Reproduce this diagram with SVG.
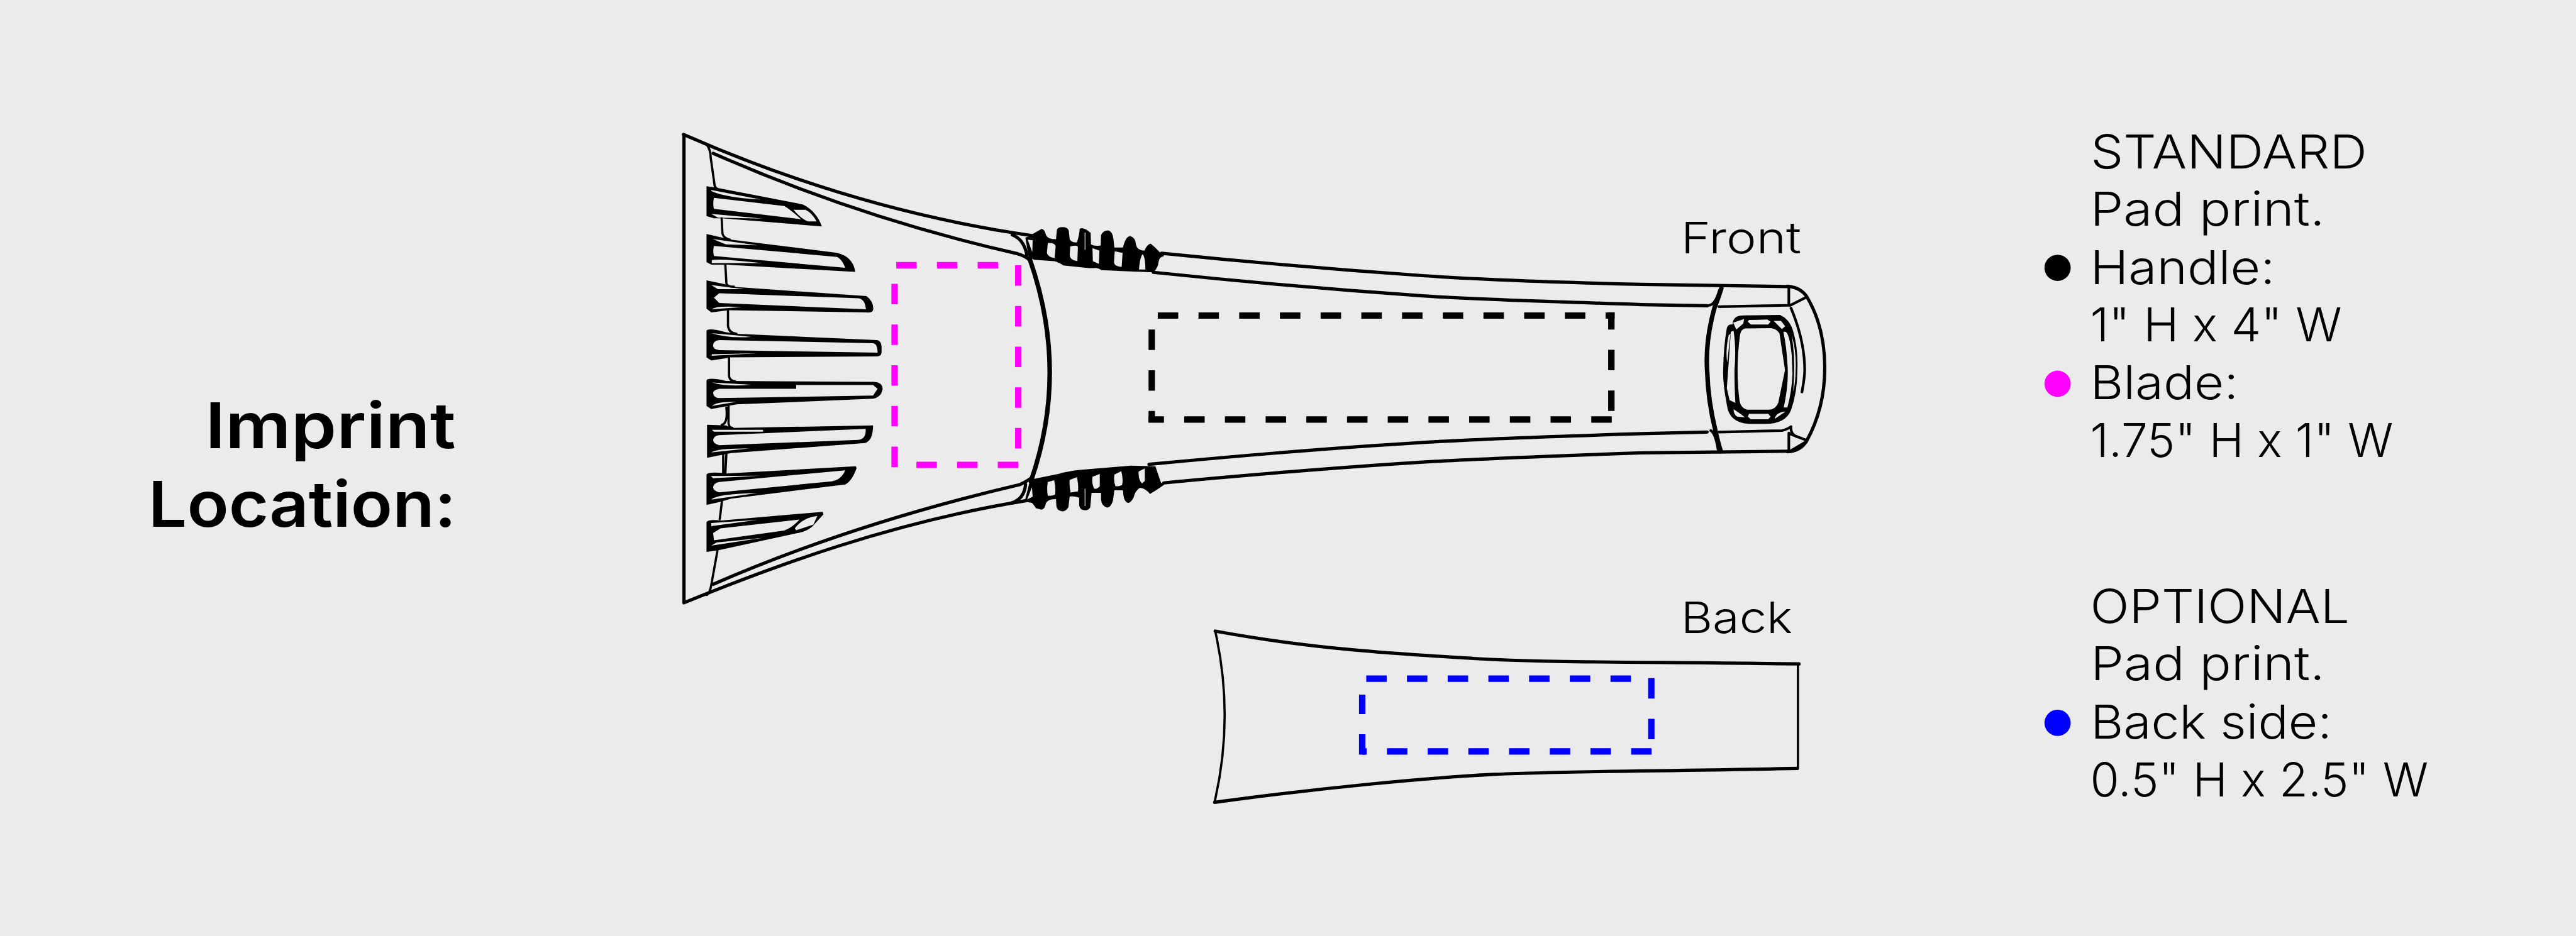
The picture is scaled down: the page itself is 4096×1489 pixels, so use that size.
<svg xmlns="http://www.w3.org/2000/svg" width="4096" height="1489" viewBox="0 0 4096 1489">
<style>
text{font-family:"Inter","Liberation Sans",sans-serif;fill:#000;font-weight:300;font-size:86px}
.h{font-weight:600;font-size:116px}
.s{font-size:79px}
.l{fill:none;stroke:#000;stroke-width:5.2;stroke-linecap:round;stroke-linejoin:round;vector-effect:non-scaling-stroke}
.t{stroke-width:3.6}
.c{stroke-width:4.2}
.k{stroke-width:7.2}
.f{fill:#000;fill-rule:evenodd;stroke:none}
.d{fill:none;stroke-dasharray:37.4 37;stroke-width:11.7}
</style>
<rect width="4096" height="1489" fill="#ebebeb"/>
<g transform="scale(.87001)">
<g id="title">
<text class="h" x="375" y="819" textLength="458" lengthAdjust="spacingAndGlyphs">Imprint</text>
<text class="h" x="271" y="963" textLength="563" lengthAdjust="spacingAndGlyphs">Location:</text>
</g>
<g id="front-scraper">
<g id="blade" transform="translate(1220 220) scale(.4847 .574)">
<path class="l" d="M62,48V1535M60,45C450,190 900,310 1378,368M62,1537C400,1420 850,1280 1350,1212"/>
<path class="l" d="M172,105C520,235 900,345 1320,425Q1350,432 1365,445M172,1478C520,1350 900,1245 1330,1160Q1355,1150 1370,1140M1300,365Q1345,380 1355,430M1350,1160Q1345,1205 1300,1218"/>
<path class="l k" d="M1365,440C1465,680 1465,920 1370,1150"/>
<path class="l t" d="M150,80Q162,95 163,120L178,210Q185,222 215,225M204,312L207,360Q210,375 235,380M218,460L222,520Q225,530 250,530M228,605V655Q232,678 260,680M232,755V815Q235,830 255,832M222,915Q228,965 205,970M230,910V965Q232,980 245,980M222,1060L218,1125M210,1065V1125M205,1215L197,1270M188,1372L165,1480Q160,1505 148,1512"/>
<path class="f" d="M147,210L180,214L510,268C550,285 570,310 582,338L205,312H175L147,305ZM175,247L440,273Q465,285 503,315L175,282Q170,265 175,247ZM165,225C200,240 280,250 350,252L165,222ZM165,298L360,313L190,310ZM475,285H520Q545,295 562,322H530Q505,315 475,285Z"/>
<path class="f" d="M147,362L240,380L640,422Q700,435 708,483L220,460H165L147,452ZM175,400L640,435Q660,445 670,470L175,432Q170,415 175,400ZM170,378L340,398L220,395ZM167,445Q200,440 355,455H167Z"/>
<path class="f" d="M147,510L215,522L240,530L750,560Q775,575 776,600Q775,615 750,612L230,605L165,612L147,600ZM195,551L720,567Q745,570 748,602L195,582L175,565ZM165,525L290,538L190,538ZM168,602Q180,590 280,595Z"/>
<path class="f" d="M147,670Q155,660 220,675L260,680L790,700Q805,702 807,720V740Q805,752 790,752L240,755L165,765L147,755ZM195,700L775,710Q792,712 792,740L195,732Q170,730 172,715Q175,702 195,700ZM165,678Q230,695 315,690L260,685ZM167,745L335,742L167,750Z"/>
<path class="f" d="M147,828Q155,818 220,830L780,833Q810,835 811,855Q808,880 775,887L260,905L165,920L147,910ZM195,885L775,877L792,855L775,843H485V855H195Q170,860 172,870Q175,885 195,885ZM168,835Q230,850 315,842ZM168,910Q185,895 260,897Z"/>
<path class="f" d="M149,970L220,972L240,980L775,972Q775,1020 745,1028L240,1060L149,1075ZM195,1003L747,983Q750,1015 720,1018L195,1035Q172,1030 172,1018Q175,1005 195,1003ZM167,986H360V992H175ZM165,1058Q185,1045 310,1045Z"/>
<path class="f" d="M147,1128Q155,1118 220,1125L710,1102L713,1108Q695,1150 670,1160L240,1205L200,1215L147,1225ZM195,1152L670,1115Q655,1145 620,1150L195,1185Q172,1180 172,1168Q175,1155 195,1152ZM163,1133L350,1132L172,1140ZM165,1208Q185,1190 340,1187Z"/>
<path class="f" d="M147,1280Q155,1270 205,1275L585,1247L588,1255L545,1295Q520,1312 490,1315L190,1370L147,1375ZM175,1338L440,1307Q470,1298 498,1272L200,1300L172,1315ZM165,1283L340,1273L165,1293ZM480,1300Q510,1265 565,1260L550,1288L485,1306ZM165,1355L360,1330L185,1345Z"/>
</g>
<g id="grips" transform="translate(1800 380) scale(.33333 .3827)">
<path class="f" d="M262,125L312,100Q330,105 335,130Q345,150 390,150L395,105Q400,92 425,92Q455,92 460,110L465,150Q475,168 505,165Q518,130 520,100Q540,90 580,120L582,175Q600,185 635,180L637,130Q650,108 675,108Q700,112 705,150L710,190L757,190Q770,140 795,135Q825,140 828,175Q835,205 875,205Q890,172 910,172Q935,190 960,213L985,218L980,232Q955,235 952,260Q950,285 925,308L640,298Q620,285 600,288H570L430,275Q400,258 380,255L270,248L240,235L222,142L262,132ZM235,152L262,155L260,212ZM345,168Q385,165 388,185L382,240Q345,235 340,215ZM468,185Q510,175 510,190L507,255Q465,250 465,225ZM547,118H551V200H547ZM590,193L628,205L625,268L592,255ZM712,208L755,215L750,282Q710,280 708,260ZM845,295Q850,235 865,222Q880,235 880,295Z"/>
<path class="f" d="M270,1295L410,1270Q430,1262 520,1252L800,1232L935,1235L965,1312L985,1322Q940,1350 905,1367Q880,1340 850,1338Q825,1350 815,1385Q800,1410 785,1410Q765,1405 760,1375L757,1350H710L702,1400Q690,1432 670,1432Q640,1425 637,1395V1362H585L578,1430Q570,1445 550,1445Q520,1445 517,1420V1385Q480,1375 465,1380L458,1430Q445,1450 425,1450Q395,1448 392,1425L390,1392Q350,1390 335,1410Q330,1440 310,1442L280,1435Q265,1415 258,1410L218,1404L245,1310ZM258,1335L232,1393L262,1380ZM345,1310L380,1302Q390,1340 385,1370Q365,1378 345,1375Q338,1345 345,1310ZM465,1300L505,1287Q515,1330 510,1355L470,1360Q462,1330 465,1300ZM547,1342H551V1425H547ZM590,1285L630,1272V1330Q615,1345 600,1342Q585,1320 590,1285ZM710,1275L748,1258Q760,1300 752,1325Q735,1332 716,1330Q705,1305 710,1275ZM843,1260L877,1245V1305L862,1317Q840,1300 843,1260Z"/>
</g>
<g id="handle">
<path class="l" d="M2123,463C2300,481 2500,497 2600,504S2800,515 3000,520L3267,524M2108,498C2300,518 2500,534 2600,541S2800,550 3000,557L3120,559M2100,849C2300,830 2500,815 2600,809S2800,799 3000,793L3120,790M2127,883C2300,866 2500,851 2600,845S2800,835 3000,828L3270,825"/>
</g>
<g id="end-cap" transform="translate(3000 450) scale(.33333)">
<path class="l" d="M800,220Q870,225 905,275Q1005,440 1005,670Q1005,890 905,1070Q870,1125 800,1128"/>
<path class="l c" d="M370,325Q405,322 428,240M425,332L800,325M808,228V325M815,325L905,280M815,1125L905,1072M808,1025V1125M815,1030L905,1065M425,1020L770,1012Q800,1005 820,990Q815,1030 850,1045M820,340Q895,520 895,680Q895,720 880,800M380,1012Q405,1025 420,1115"/>
<path class="l k" d="M438,232Q420,290 400,340Q350,520 360,680Q365,850 405,1010Q420,1080 435,1125"/>
<path class="f" d="M500,420Q505,380 560,380L760,378Q810,400 830,460Q860,560 855,680Q855,800 820,900Q790,975 680,975H590Q480,970 468,870Q445,750 448,680Q450,550 468,450Q475,425 500,430ZM570,452L710,450Q745,455 757,480L787,680L750,860Q735,895 700,897H580Q545,890 538,850Q515,680 540,490Q545,455 570,452ZM590,405L690,403L708,415L695,430H600L583,415ZM590,920H695L708,935L695,950H600L583,935ZM503,420L563,400L558,425L520,458ZM725,410H765L788,440L770,455ZM505,895Q530,910 568,940L525,935Q505,925 505,895ZM730,948Q740,910 790,908ZM478,490L488,480L470,640Q460,570 478,490ZM490,470L505,465Q520,560 510,680Q510,780 515,860L483,845L468,780Q480,620 490,470ZM790,470Q812,480 824,600L828,700Q824,800 800,885H780Q810,750 800,640Q795,550 778,470ZM824,490Q850,580 845,680Q845,750 832,800Q840,700 836,600Q832,540 824,490Z"/>
</g>
<g id="blade-imprint">
<path class="d" stroke="#f0f" d="M1638,485H1830M1861,485V825M1861,850H1670M1635,854V515"/>
</g>
<g id="handle-imprint">
<path class="d" stroke="#000" d="M2116,577H2951"/>
<path class="d" stroke="#000" stroke-dashoffset="5.7" d="M2945,571V755"/>
<path class="d" stroke="#000" d="M2945.7,767H2099"/>
<path class="d" stroke="#000" stroke-dashoffset="16.7" d="M2105,772V600"/>
</g>
<text id="front-label" class="s" x="3072" y="463" textLength="220" lengthAdjust="spacingAndGlyphs">Front</text>
</g>
<g id="back-scraper">
<path class="l" d="M2221,1154C2400,1187 2560,1196 2693,1204S3000,1210 3288,1214"/>
<path class="l t" d="M2221,1154Q2256,1310 2220,1466M3286,1214V1403"/>
<path class="l" d="M3285,1405C3050,1410 2850,1410 2730,1416S2420,1440 2220,1467"/>
<g id="back-imprint">
<path class="d" stroke="#00f" d="M2497,1241H2985"/>
<path class="d" stroke="#00f" d="M3018,1240V1355"/>
<path class="d" stroke="#00f" d="M3018.6,1374H2490"/>
<path class="d" stroke="#00f" d="M2489.6,1380V1270"/>
</g>
<text id="back-label" class="s" x="3072" y="1157" textLength="204" lengthAdjust="spacingAndGlyphs">Back</text>
</g>
<g id="legend-standard">
<text x="3821" y="307.5" textLength="505" lengthAdjust="spacingAndGlyphs">STANDARD</text>
<text x="3820" y="413" textLength="429" lengthAdjust="spacingAndGlyphs">Pad print.</text>
<circle cx="3760.5" cy="489.7" r="24"/>
<text x="3820" y="519" textLength="338" lengthAdjust="spacingAndGlyphs">Handle:</text>
<text x="3820" y="624" textLength="460" lengthAdjust="spacingAndGlyphs">1" H x 4" W</text>
<circle cx="3760.5" cy="701.7" r="24" fill="#f0f"/>
<text x="3820" y="729.5" textLength="271" lengthAdjust="spacingAndGlyphs">Blade:</text>
<text x="3820" y="836" textLength="554" lengthAdjust="spacingAndGlyphs">1.75" H x 1" W</text>
</g>
<g id="legend-optional">
<text x="3820" y="1139" textLength="474" lengthAdjust="spacingAndGlyphs">OPTIONAL</text>
<text x="3821" y="1244" textLength="428" lengthAdjust="spacingAndGlyphs">Pad print.</text>
<circle cx="3760.5" cy="1321.7" r="24" fill="#00f"/>
<text x="3821" y="1350.7" textLength="441" lengthAdjust="spacingAndGlyphs">Back side:</text>
<text x="3820" y="1456" textLength="618" lengthAdjust="spacingAndGlyphs">0.5" H x 2.5" W</text>
</g>
</g>
</svg>
